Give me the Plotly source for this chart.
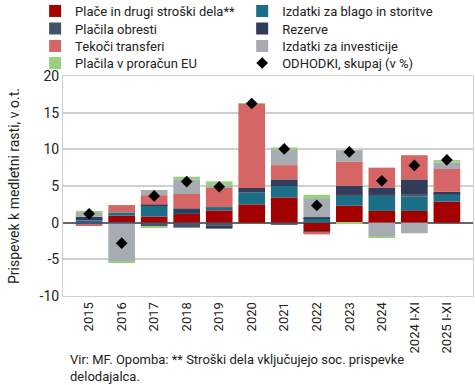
import plotly.graph_objects as go

years = ["2015", "2016", "2017", "2018", "2019", "2020", "2021", "2022",
         "2023", "2024", "2024 I-XI", "2025 I-XI"]

place = [0.05, 0.95, 0.85, 1.23, 1.68, 2.5, 3.45, -1.15, 2.3, 1.6, 1.6, 2.86]
blago = [0.25, 0.45, 1.5, 0.05, 0.45, 1.6, 1.55, 0.6, 1.45, 2.05, 1.95, 1.0]
obresti = [-0.2, -0.15, -0.5, -0.68, -0.36, 0.0, -0.3, -0.2, 0.1, 0.2, 0.35, 0.1]
rezerve = [0.5, 0.0, 0.1, 0.68, -0.45, 0.64, 0.9, 0.15, 1.17, 0.95, 2.0, 0.26]
tekoci = [-0.25, 1.0, 1.3, 1.95, 2.6, 11.45, 1.95, -0.25, 3.27, 2.7, 3.3, 3.1]
investicije = [0.65, -5.2, 0.7, 2.0, 0.36, 0.0, 2.05, 2.6, 1.6, -1.9, -1.45, 0.86]
eu = [0.15, -0.1, -0.2, 0.36, 0.55, 0.1, 0.36, 0.45, -0.2, -0.1, 0.0, 0.36]
odhodki = [1.2, -2.8, 3.65, 5.6, 4.9, 16.25, 10.05, 2.35, 9.65, 5.7, 7.8, 8.55]

series = [
    ("Plače in drugi stroški dela**", place, "#A30000"),
    ("Izdatki za blago in storitve", blago, "#1B6E88"),
    ("Plačila obresti", obresti, "#44546A"),
    ("Rezerve", rezerve, "#323C58"),
    ("Tekoči transferi", tekoci, "#D66565"),
    ("Izdatki za investicije", investicije, "#A7ACB2"),
    ("Plačila v proračun EU", eu, "#98D07E"),
]

FONT = "Roboto"
fig = go.Figure()
legend_ids = ["legend" if i == 0 else f"legend{i + 1}" for i in range(8)]
for i, (name, vals, col) in enumerate(series):
    fig.add_trace(go.Bar(x=years, y=vals, name=name, marker_color=col,
                         marker_line_width=0, legend=legend_ids[i]))
fig.add_trace(go.Scatter(x=years, y=odhodki, name="ODHODKI, skupaj (v %)",
                         mode="markers", legend=legend_ids[7],
                         marker=dict(symbol="diamond", size=9, color="black")))

# legend grid: 2 columns x 4 rows (entries in reading order)
col_x = [-0.068, 0.437]
row_y = [1.3636, 1.284, 1.2045, 1.127]
legends = {}
for i, lid in enumerate(legend_ids):
    legends[lid] = dict(orientation="v", xanchor="left", yref="paper",
                        yanchor="top", x=col_x[i % 2], y=row_y[i // 2],
                        font=dict(size=13), itemwidth=30,
                        bgcolor="rgba(0,0,0,0)")

fig.update_layout(
    width=475, height=385,
    margin=dict(l=63, r=2, t=76, b=89, autoexpand=False),
    barmode="relative", bargap=0.18,
    plot_bgcolor="white", paper_bgcolor="white",
    font=dict(family=FONT, size=14, color="#222222"),
    showlegend=True,
    annotations=[dict(text="Vir: MF. Opomba: ** Stroški dela vključujejo soc. prispevke<br>delodajalca.",
                      xref="paper", yref="paper", x=0.012, y=-0.245, xanchor="left",
                      yanchor="top", showarrow=False, align="left",
                      font=dict(size=13, color="#222222"))],
    **legends,
)
fig.update_yaxes(range=[-10, 20], tickvals=[-10, -5, 0, 5, 10, 15, 20],
                 ticktext=["-10", "-5", "0", "5", "10", "15", "20"],
                 showgrid=True, gridcolor="#D0D0D0", gridwidth=1.5,
                 zeroline=True, zerolinecolor="#666666", zerolinewidth=2,
                 showline=True, linecolor="#D0D0D0", mirror=True,
                 ticks="", tickfont=dict(size=14),
                 title=dict(text="Prispevek k medletni rasti, v o.t.",
                            font=dict(size=14), standoff=16))
fig.update_xaxes(tickangle=-90, showline=True, linecolor="#D0D0D0", mirror=True,
                 tickfont=dict(size=13), ticks="")

fig.write_html("out.html", config={"displayModeBar": False},
               post_script="document.body.style.margin='0';document.body.style.padding='0';")
